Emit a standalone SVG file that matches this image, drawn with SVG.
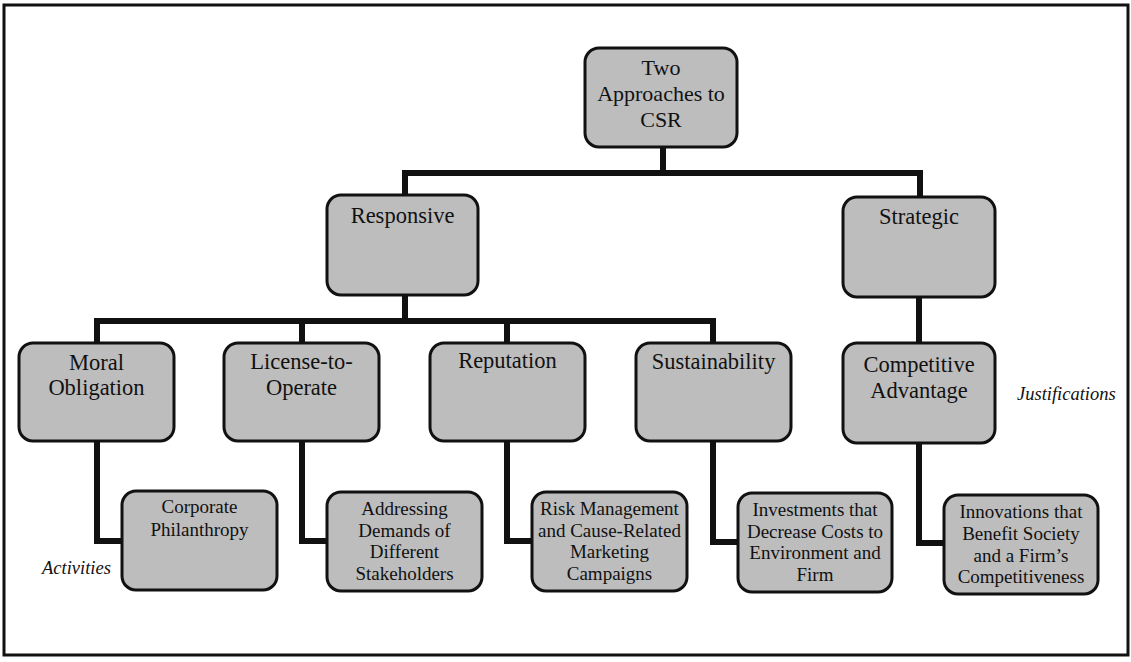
<svg xmlns="http://www.w3.org/2000/svg" width="1131" height="662" viewBox="0 0 1131 662">
<style>
.box{fill:#bdbdbd;stroke:#111;stroke-width:3}
.t{font-family:"Liberation Serif","Times New Roman",serif;font-size:22.5px;fill:#111;text-anchor:middle}
.r{font-family:"Liberation Serif","Times New Roman",serif;font-size:22px;fill:#111;text-anchor:middle}
.s{font-family:"Liberation Serif","Times New Roman",serif;font-size:19px;fill:#111;text-anchor:middle}
.i{font-family:"Liberation Serif","Times New Roman",serif;font-size:18.5px;font-style:italic;fill:#111}
.c{fill:none;stroke:#111;stroke-width:6}
</style>
<rect x="4" y="5" width="1124" height="650" fill="#fff" stroke="#111" stroke-width="3"/>
<g id="connectors">
<path class="c" d="M663 147 V173 M405 173 H920 M405 170 V195 M920 170 V197"/>
<path class="c" d="M405 295 V321 M97 321 H713 M97 318 V343 M302 318 V343 M507 318 V343 M713 318 V343"/>
<path class="c" d="M919 297 V343"/>
<path class="c" d="M97 441 V541 H122 M302 441 V541 H327 M507 441 V541 H532 M713 441 V542 H738 M919 443 V543 H944"/>
</g>
<g id="root"><rect class="box" x="585" y="48" width="152" height="99" rx="14"/>
<text class="r" x="661" y="75">Two</text><text class="r" x="661" y="101">Approaches to</text><text class="r" x="661" y="127">CSR</text></g>
<g id="responsive"><rect class="box" x="327" y="195" width="151" height="100" rx="14"/>
<text class="t" x="402.5" y="223">Responsive</text></g>
<g id="strategic"><rect class="box" x="843" y="197" width="152" height="100" rx="14"/>
<text class="t" x="919" y="224">Strategic</text></g>
<g id="moral"><rect class="box" x="19" y="343" width="155" height="98" rx="14"/>
<text class="t" x="96.5" y="370">Moral</text><text class="t" x="96.5" y="395">Obligation</text></g>
<g id="license"><rect class="box" x="224" y="343" width="155" height="98" rx="14"/>
<text class="t" x="301.5" y="369">License-to-</text><text class="t" x="301.5" y="395">Operate</text></g>
<g id="reputation"><rect class="box" x="430" y="343" width="155" height="98" rx="14"/>
<text class="t" x="507.5" y="368">Reputation</text></g>
<g id="sustainability"><rect class="box" x="636" y="343" width="155" height="98" rx="14"/>
<text class="t" x="713.5" y="369">Sustainability</text></g>
<g id="competitive"><rect class="box" x="843" y="343" width="152" height="100" rx="14"/>
<text class="t" x="919" y="372">Competitive</text><text class="t" x="919" y="398">Advantage</text></g>
<g id="justifications-label"><text class="i" x="1017" y="400">Justifications</text></g>
<g id="philanthropy"><rect class="box" x="122" y="491" width="155" height="99" rx="14"/>
<text class="s" x="199.5" y="513">Corporate</text><text class="s" x="199.5" y="536">Philanthropy</text></g>
<g id="addressing"><rect class="box" x="327" y="492" width="155" height="99" rx="14"/>
<text class="s" x="404.5" y="515">Addressing</text><text class="s" x="404.5" y="537">Demands of</text><text class="s" x="404.5" y="558">Different</text><text class="s" x="404.5" y="580">Stakeholders</text></g>
<g id="risk"><rect class="box" x="532" y="492" width="155" height="99" rx="14"/>
<text class="s" x="609.5" y="515">Risk Management</text><text class="s" x="609.5" y="537">and Cause-Related</text><text class="s" x="609.5" y="558">Marketing</text><text class="s" x="609.5" y="580">Campaigns</text></g>
<g id="investments"><rect class="box" x="738" y="493" width="154" height="99" rx="14"/>
<text class="s" x="815" y="516">Investments that</text><text class="s" x="815" y="538">Decrease Costs to</text><text class="s" x="815" y="559">Environment and</text><text class="s" x="815" y="581">Firm</text></g>
<g id="innovations"><rect class="box" x="944" y="495" width="154" height="99" rx="14"/>
<text class="s" x="1021" y="518">Innovations that</text><text class="s" x="1021" y="540">Benefit Society</text><text class="s" x="1021" y="562">and a Firm’s</text><text class="s" x="1021" y="583">Competitiveness</text></g>
<g id="activities-label"><text class="i" x="42" y="574">Activities</text></g>
</svg>
